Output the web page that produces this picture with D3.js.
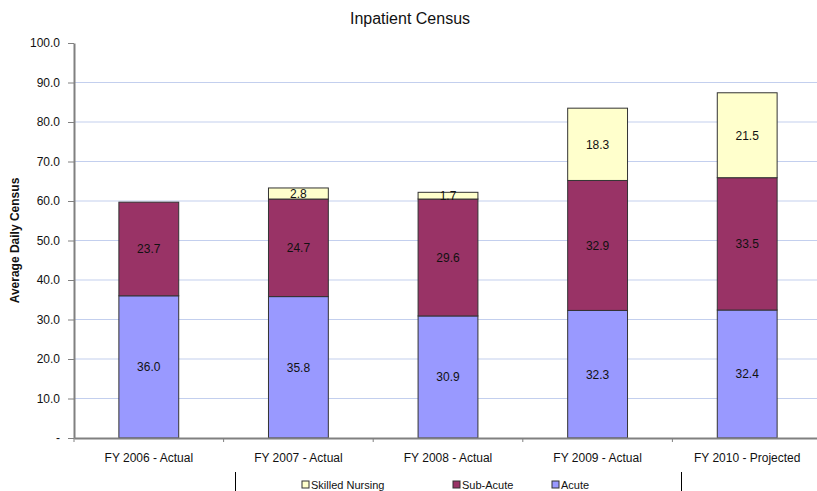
<!DOCTYPE html>
<html>
<head>
<meta charset="utf-8">
<script src="https://cdn.jsdelivr.net/npm/d3@7/dist/d3.min.js"></script>
<style>
  html, body { margin: 0; padding: 0; background: #fff; }
  svg { display: block; font-family: "Liberation Sans", Arial, sans-serif; }
</style>
</head>
<body>
<svg id="chart" width="817" height="491"></svg>
<script>
// Inpatient census by fiscal year, stacked by level of care
const categories = ["FY 2006 - Actual", "FY 2007 - Actual", "FY 2008 - Actual", "FY 2009 - Actual", "FY 2010 - Projected"];
const acute = [36.0, 35.8, 30.9, 32.3, 32.4];
const subAcute = [23.7, 24.7, 29.6, 32.9, 33.5];
const skilledNursing = [0, 2.8, 1.7, 18.3, 21.5];
const seriesNames = ["Acute", "Sub-Acute", "Skilled Nursing"];
const seriesColors = ["#9999ff", "#993366", "#ffffcc"];
const yTicks = [0, 10, 20, 30, 40, 50, 60, 70, 80, 90, 100];

const svg = d3.select("#chart");
const margin = { left: 74, top: 43, right: -5, bottom: 53 };
const W = 817, H = 491;

const x = d3.scaleBand().domain(categories)
  .range([margin.left, W - margin.right]).paddingInner(0).paddingOuter(0);
const y = d3.scaleLinear().domain([0, 100]).range([H - margin.bottom, margin.top]);

const rows = categories.map((c, i) => ({
  cat: c, "Acute": acute[i], "Sub-Acute": subAcute[i], "Skilled Nursing": skilledNursing[i]
}));
const stacked = d3.stack().keys(seriesNames)(rows);

// Gridlines
svg.append("g").selectAll("line").data(yTicks.filter(t => t > 0 && t < 100)).join("line")
  .attr("x1", margin.left).attr("x2", W - margin.right)
  .attr("y1", d => y(d)).attr("y2", d => y(d))
  .attr("stroke", "#c3cfee").attr("stroke-width", 1.2);

// Bars
const barW = x.bandwidth() * 0.4;
const layers = svg.append("g").selectAll("g").data(stacked).join("g")
  .attr("fill", (d, i) => seriesColors[i]);
layers.selectAll("rect").data(d => d.filter(s => s[1] - s[0] > 0)).join("rect")
  .attr("x", d => x(d.data.cat) + (x.bandwidth() - barW) / 2)
  .attr("width", barW)
  .attr("y", d => y(d[1]))
  .attr("height", d => y(d[0]) - y(d[1]))
  .attr("stroke", "#333").attr("stroke-width", 1);

// Value labels
stacked.forEach(layer => {
  svg.append("g").selectAll("text").data(layer.filter(s => s[1] - s[0] > 0)).join("text")
    .attr("x", d => x(d.data.cat) + x.bandwidth() / 2)
    .attr("y", d => (y(d[0]) + y(d[1])) / 2)
    .attr("dy", "0.36em")
    .attr("text-anchor", "middle")
    .attr("font-size", 12).attr("fill", "#111")
    .text(d => d3.format(".1f")(d[1] - d[0]));
});

// Y axis
const yAxis = d3.axisLeft(y).tickValues(yTicks).tickSize(6).tickSizeOuter(0)
  .tickFormat(d => d === 0 ? "-" : d3.format(".1f")(d));
const gy = svg.append("g").attr("transform", `translate(${margin.left},0)`).call(yAxis);
gy.select(".domain").attr("stroke", "#808080").attr("stroke-width", 2);
gy.selectAll(".tick line").attr("stroke", "#808080");
gy.selectAll(".tick text").attr("font-size", 12).attr("fill", "#111").attr("x", -14)
  .style("font-family", "'Liberation Sans', Arial, sans-serif");

// X axis
const xAxis = d3.axisBottom(x).tickSize(0).tickSizeOuter(0);
const gx = svg.append("g").attr("transform", `translate(0,${y(0)})`).call(xAxis);
gx.select(".domain").attr("stroke", "#808080").attr("stroke-width", 2);
gx.selectAll(".tick text").attr("font-size", 12).attr("fill", "#111").attr("dy", "1.75em")
  .style("font-family", "'Liberation Sans', Arial, sans-serif");
// category separators
svg.append("g").selectAll("line").data(categories.concat([null])).join("line")
  .attr("x1", (d, i) => margin.left + i * x.bandwidth())
  .attr("x2", (d, i) => margin.left + i * x.bandwidth())
  .attr("y1", y(0)).attr("y2", y(0) + 4)
  .attr("stroke", "#808080");

// Titles
svg.append("text").attr("x", 410).attr("y", 24).attr("text-anchor", "middle")
  .attr("font-size", 16).attr("fill", "#111").text("Inpatient Census");
svg.append("text")
  .attr("transform", `translate(19,${(y(0) + y(100)) / 2}) rotate(-90)`)
  .attr("text-anchor", "middle").attr("font-size", 12).attr("font-weight", "bold")
  .attr("fill", "#111").text("Average Daily Census");

// Legend
const legendY = 489;
svg.append("line").attr("x1", 235.5).attr("x2", 235.5).attr("y1", 472).attr("y2", 491).attr("stroke", "#000");
svg.append("line").attr("x1", 681.5).attr("x2", 681.5).attr("y1", 472).attr("y2", 491).attr("stroke", "#000");
const legendItems = [
  { name: "Skilled Nursing", color: seriesColors[2], x: 302 },
  { name: "Sub-Acute", color: seriesColors[1], x: 453 },
  { name: "Acute", color: seriesColors[0], x: 552 }
];
const lg = svg.append("g").selectAll("g").data(legendItems).join("g")
  .attr("transform", d => `translate(${d.x},${legendY})`);
lg.append("rect").attr("x", 0).attr("y", -8).attr("width", 7).attr("height", 7)
  .attr("fill", d => d.color).attr("stroke", "#333");
lg.append("text").attr("x", 9).attr("y", 0).attr("font-size", 11).attr("fill", "#111")
  .text(d => d.name);
</script>
</body>
</html>
